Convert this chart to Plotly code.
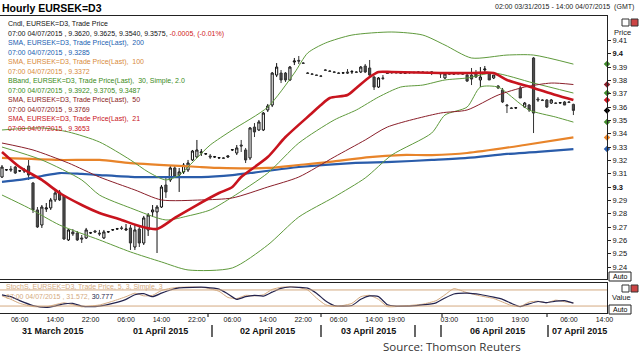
import plotly.graph_objects as go
import pandas as pd

# ---------------- data ----------------
session_starts = ["2015-03-31 02:00", "2015-04-05 18:00"]
session_ends = ["2015-04-03 21:00", "2015-04-07 07:00"]

opens = [
    9.3075, 9.3128, 9.3135, 9.3150, 9.3120, 9.3120, 9.3158, 9.3030, 9.2828, 9.2715,
    9.2835, 9.2843, 9.2903, 9.2963, 9.2933, 9.2603, 9.2663, 9.2655, 9.2618, 9.2618,
    9.2655, 9.2670, 9.2655, 9.2618, 9.2663, 9.2678, 9.2685, 9.2693, 9.2678, 9.2693,
    9.2550, 9.2685, 9.2580, 9.2678, 9.2813, 9.2813, 9.2850, 9.3015, 9.3053, 9.3143,
    9.3090, 9.3113, 9.3128, 9.3203, 9.3225, 9.3255, 9.3248, 9.3233, 9.3225, 9.3218,
    9.3218, 9.3225, 9.3278, 9.3255, 9.3315, 9.3278, 9.3218, 9.3450, 9.3428, 9.3428,
    9.3578, 9.3615, 9.3840, 9.3855, 9.3855, 9.3803, 9.3938, 9.3950, 9.3930, 9.3855,
    9.3848, 9.3840, 9.3833, 9.3878, 9.3870, 9.3863, 9.3855, 9.3855, 9.3863, 9.3863,
    9.3863, 9.3863, 9.3908, 9.3893, 9.3825, 9.3750, 9.3818, 9.3855, 9.3858, 9.3860,
    9.3857, 9.3855, 9.3860, 9.3858, 9.3860, 9.3862, 9.3860, 9.3863, 9.3858, 9.3855,
    9.3818, 9.3850, 9.3848, 9.3852, 9.3850, 9.3840, 9.3840, 9.3855, 9.3803, 9.3878,
    9.3855, 9.3818, 9.3758, 9.3728, 9.3615, 9.3593, 9.3593, 9.3743, 9.3600, 9.3615,
    9.3968, 9.3660, 9.3653, 9.3653, 9.3630, 9.3630, 9.3630, 9.3638, 9.3638, 9.3620,
]
highs = [
    9.3165, 9.3135, 9.3158, 9.3158, 9.3128, 9.3143, 9.3203, 9.3038, 9.2850, 9.2865,
    9.2880, 9.2918, 9.2978, 9.2978, 9.2940, 9.2685, 9.2685, 9.2670, 9.2640, 9.2693,
    9.2663, 9.2678, 9.2678, 9.2678, 9.2670, 9.2685, 9.2693, 9.2708, 9.2723, 9.2715,
    9.2715, 9.2708, 9.2783, 9.2805, 9.2865, 9.2865, 9.3015, 9.3075, 9.3158, 9.3158,
    9.3143, 9.3180, 9.3203, 9.3278, 9.3353, 9.3285, 9.3255, 9.3248, 9.3233, 9.3225,
    9.3225, 9.3233, 9.3285, 9.3315, 9.3353, 9.3293, 9.3450, 9.3480, 9.3503, 9.3563,
    9.3623, 9.3863, 9.3930, 9.3878, 9.3863, 9.3908, 9.3968, 9.3983, 9.3938, 9.3863,
    9.3855, 9.3842, 9.3840, 9.3885, 9.3878, 9.3870, 9.3863, 9.3863, 9.3885, 9.3878,
    9.3870, 9.3908, 9.3923, 9.3953, 9.3833, 9.3825, 9.3840, 9.3863, 9.3865, 9.3868,
    9.3863, 9.3860, 9.3865, 9.3863, 9.3866, 9.3868, 9.3866, 9.3866, 9.3862, 9.3858,
    9.3848, 9.3855, 9.3853, 9.3857, 9.3855, 9.3848, 9.3893, 9.3878, 9.3900, 9.3908,
    9.3863, 9.3840, 9.3765, 9.3743, 9.3623, 9.3600, 9.3598, 9.3758, 9.3638, 9.3623,
    9.3975, 9.3675, 9.3660, 9.3660, 9.3660, 9.3635, 9.3636, 9.3645, 9.3645, 9.3625,
]
lows = [
    9.3068, 9.3120, 9.3113, 9.3098, 9.3113, 9.3105, 9.3053, 9.2805, 9.2693, 9.2693,
    9.2813, 9.2828, 9.2888, 9.2895, 9.2603, 9.2595, 9.2633, 9.2595, 9.2580, 9.2610,
    9.2648, 9.2655, 9.2633, 9.2610, 9.2655, 9.2670, 9.2678, 9.2678, 9.2670, 9.2528,
    9.2528, 9.2550, 9.2565, 9.2633, 9.2775, 9.2505, 9.2843, 9.2918, 9.3038, 9.3068,
    9.2963, 9.3098, 9.3113, 9.3195, 9.3218, 9.3233, 9.3240, 9.3210, 9.3218, 9.3210,
    9.3210, 9.3218, 9.3270, 9.3240, 9.3263, 9.3180, 9.3203, 9.3375, 9.3420, 9.3420,
    9.3563, 9.3600, 9.3825, 9.3780, 9.3788, 9.3795, 9.3915, 9.3923, 9.3923, 9.3848,
    9.3840, 9.3833, 9.3825, 9.3870, 9.3863, 9.3855, 9.3848, 9.3848, 9.3848, 9.3848,
    9.3855, 9.3855, 9.3855, 9.3818, 9.3728, 9.3743, 9.3803, 9.3848, 9.3850, 9.3853,
    9.3850, 9.3848, 9.3850, 9.3853, 9.3855, 9.3857, 9.3852, 9.3840, 9.3852, 9.3818,
    9.3810, 9.3843, 9.3842, 9.3846, 9.3844, 9.3788, 9.3765, 9.3818, 9.3750, 9.3863,
    9.3803, 9.3810, 9.3735, 9.3630, 9.3555, 9.3585, 9.3585, 9.3668, 9.3593, 9.3563,
    9.3405, 9.3638, 9.3645, 9.3593, 9.3623, 9.3623, 9.3624, 9.3615, 9.3630, 9.3540,
]
closes = [
    9.3150, 9.3130, 9.3128, 9.3105, 9.3122, 9.3128, 9.3090, 9.2828, 9.2700, 9.2850,
    9.2843, 9.2903, 9.2955, 9.2903, 9.2610, 9.2678, 9.2648, 9.2603, 9.2610, 9.2678,
    9.2657, 9.2663, 9.2648, 9.2663, 9.2665, 9.2680, 9.2687, 9.2690, 9.2685, 9.2580,
    9.2678, 9.2580, 9.2768, 9.2790, 9.2828, 9.2850, 9.3000, 9.2963, 9.3143, 9.3075,
    9.3113, 9.3165, 9.3180, 9.3270, 9.3278, 9.3263, 9.3250, 9.3225, 9.3227, 9.3220,
    9.3216, 9.3233, 9.3280, 9.3293, 9.3308, 9.3203, 9.3443, 9.3413, 9.3488, 9.3555,
    9.3608, 9.3855, 9.3900, 9.3803, 9.3803, 9.3900, 9.3945, 9.3945, 9.3928, 9.3853,
    9.3846, 9.3838, 9.3831, 9.3876, 9.3868, 9.3861, 9.3853, 9.3857, 9.3855, 9.3866,
    9.3861, 9.3900, 9.3863, 9.3840, 9.3750, 9.3818, 9.3815, 9.3853, 9.3860, 9.3857,
    9.3855, 9.3852, 9.3858, 9.3860, 9.3862, 9.3860, 9.3858, 9.3862, 9.3857, 9.3850,
    9.3848, 9.3848, 9.3850, 9.3850, 9.3848, 9.3795, 9.3810, 9.3825, 9.3825, 9.3885,
    9.3803, 9.3840, 9.3743, 9.3638, 9.3610, 9.3590, 9.3595, 9.3668, 9.3630, 9.3578,
    9.3555, 9.3653, 9.3650, 9.3600, 9.3653, 9.3628, 9.3633, 9.3615, 9.3635, 9.3575,
]

# indicator samples (bar index, value)
sma200_idx = [0, 4, 9, 13, 18, 22, 30, 36, 45, 52, 56, 67, 79, 88, 97, 105, 114, 121, 129]
sma200_vals = [9.3038, 9.3053, 9.3083, 9.3105, 9.3098, 9.3090, 9.3075, 9.3075, 9.3075, 9.3090,
               9.3105, 9.3150, 9.3180, 9.3188, 9.3203, 9.3218, 9.3248, 9.3263, 9.3285]
sma100_idx = [0, 13, 22, 29, 45, 49, 60, 67, 74, 83, 90, 97, 105, 118, 129]
sma100_vals = [9.3218, 9.3203, 9.3203, 9.3180, 9.3150, 9.3143, 9.3143, 9.3165, 9.3188, 9.3225,
               9.3240, 9.3240, 9.3255, 9.3315, 9.3372]
sma50_idx = [0, 7, 15, 22, 30, 36, 45, 52, 60, 67, 75, 82, 87, 99, 105, 112, 118, 124, 129]
sma50_vals = [9.3330, 9.3278, 9.3180, 9.3075, 9.2978, 9.2903, 9.2903, 9.2918, 9.3000, 9.3075,
              9.3225, 9.3353, 9.3450, 9.3555, 9.3578, 9.3690, 9.3750, 9.3780, 9.3769]
sma21_idx = [0, 4, 9, 13, 18, 22, 27, 31, 35, 39, 44, 49, 52, 54, 60, 64, 70, 72, 74, 78, 80,
             83, 85, 88, 99, 106, 111, 114, 120, 125, 129]
sma21_vals = [9.3263, 9.3150, 9.3053, 9.2955, 9.2865, 9.2805, 9.2753, 9.2708, 9.2685, 9.2768,
              9.2865, 9.2955, 9.3000, 9.3075, 9.3225, 9.3375, 9.3555, 9.3615, 9.3668, 9.3690,
              9.3743, 9.3825, 9.3863, 9.3863, 9.3855, 9.3855, 9.3855, 9.3803, 9.3743, 9.3690, 9.3653]
bb_up_idx = [0, 9, 15, 22, 29, 33, 37, 40, 44, 47, 52, 60, 66, 69, 73, 79, 88, 95, 100, 106, 114, 120, 129]
bb_up_vals = [9.3428, 9.3443, 9.3413, 9.3338, 9.3203, 9.3113, 9.3053, 9.3090, 9.3218, 9.3315,
              9.3428, 9.3600, 9.3855, 9.4005, 9.4080, 9.4140, 9.4163, 9.4140, 9.4065, 9.3968,
              9.3990, 9.3990, 9.3922]
bb_mid_idx = [0, 9, 18, 22, 29, 37, 42, 47, 52, 60, 67, 75, 80, 85, 90, 95, 100, 105, 111, 120, 129]
bb_mid_vals = [9.3300, 9.3203, 9.3053, 9.2940, 9.2843, 9.2753, 9.2783, 9.2828, 9.2925, 9.3105,
               9.3330, 9.3503, 9.3578, 9.3675, 9.3750, 9.3765, 9.3803, 9.3818, 9.3855, 9.3780, 9.3705]
bb_lo_idx = [0, 6, 13, 22, 29, 36, 42, 52, 60, 67, 75, 82, 88, 97, 100, 105, 108, 112, 114, 119, 125, 129]
bb_lo_vals = [9.2940, 9.2843, 9.2715, 9.2603, 9.2513, 9.2438, 9.2378, 9.2393, 9.2565, 9.2775,
              9.2925, 9.3068, 9.3240, 9.3405, 9.3540, 9.3600, 9.3750, 9.3750, 9.3705, 9.3578,
              9.3525, 9.3487]

stoch_idx = [0, 2, 4, 7, 10, 12, 14, 16, 18, 20, 22, 25, 28, 30, 32, 34, 36, 38, 40, 43,
             46, 49, 51, 53, 55, 57, 59, 61, 63, 65, 67, 69, 71, 73, 75, 77, 79, 81, 83, 85,
             87, 89, 92, 95, 98, 100, 102, 105, 108, 111, 113, 115, 117, 119, 121, 123, 125, 127, 129]
stoch_slow = [62, 55, 40, 22, 15, 20, 28, 30, 20, 18, 20, 30, 45, 62, 66, 55, 68, 80, 88, 90,
              90, 83, 65, 45, 55, 60, 57, 72, 86, 91, 90, 87, 68, 40, 22, 20, 22, 45, 58, 55,
              25, 20, 20, 24, 32, 50, 65, 68, 63, 53, 45, 30, 18, 28, 37, 33, 38, 40, 30.777]
stoch_fast = [58, 45, 30, 18, 17, 25, 32, 25, 17, 20, 24, 38, 55, 68, 58, 60, 78, 86, 90, 91,
              88, 75, 52, 48, 60, 58, 62, 82, 90, 92, 89, 80, 50, 25, 18, 22, 30, 55, 60, 45,
              18, 18, 22, 27, 40, 62, 85, 70, 58, 48, 35, 22, 18, 35, 38, 32, 42, 36, 31.572]
stoch_levels = [80, 20]

y_ticks = [9.24, 9.25, 9.26, 9.27, 9.28, 9.29, 9.30, 9.31, 9.32, 9.33, 9.34, 9.35, 9.36,
           9.37, 9.38, 9.39, 9.40, 9.41]
tick_times = ["2015-03-31 06:00", "2015-03-31 14:00", "2015-03-31 22:00",
              "2015-04-01 06:00", "2015-04-01 14:00", "2015-04-01 22:00",
              "2015-04-02 06:00", "2015-04-02 14:00", "2015-04-02 22:00",
              "2015-04-03 06:00", "2015-04-03 14:00", "2015-04-03 19:00",
              "2015-04-06 03:00", "2015-04-06 11:00", "2015-04-06 19:00",
              "2015-04-07 06:00", "2015-04-07 14:00"]
date_labels = ["31 March 2015", "01 April 2015", "02 April 2015", "03 April 2015",
               "06 April 2015", "07 April 2015"]

# ---------------- build ----------------
bar_times = []
for s, e in zip(session_starts, session_ends):
    bar_times += list(pd.date_range(s, e, freq="h"))

def pick(idx):
    return [bar_times[k] for k in idx]

BLUE = "#2a5caa"
ORANGE = "#e8842a"
GREEN = "#5f9a3c"
MAROON = "#8a1f2a"
RED = "#c8141e"
TAN = "#d4aa80"
NAVY = "#24244e"
FONT = "Liberation Sans"

x_range = ["2015-03-31 01:33", "2015-04-07 14:35"]
rbreaks = [dict(bounds=["2015-04-03 21:30", "2015-04-05 17:30"])]

fig = go.Figure()
fig.add_trace(go.Candlestick(
    x=bar_times, open=opens, high=highs, low=lows, close=closes,
    increasing=dict(line=dict(color="#111111", width=1), fillcolor="#ffffff"),
    decreasing=dict(line=dict(color="#333333", width=1), fillcolor="#4d4d4d"),
    whiskerwidth=0, xaxis="x", yaxis="y", showlegend=False, hoverinfo="skip"))

lines = [
    (sma200_idx, sma200_vals, BLUE, 2.2),
    (sma100_idx, sma100_vals, ORANGE, 2.2),
    (bb_up_idx, bb_up_vals, GREEN, 1),
    (bb_mid_idx, bb_mid_vals, GREEN, 1),
    (bb_lo_idx, bb_lo_vals, GREEN, 1),
    (sma50_idx, sma50_vals, MAROON, 1),
    (sma21_idx, sma21_vals, RED, 2.6),
]
for idx, vals, col, w in lines:
    fig.add_trace(go.Scatter(x=pick(idx), y=vals, mode="lines", xaxis="x", yaxis="y",
                             line=dict(color=col, width=w, shape="spline", smoothing=0.7),
                             showlegend=False, hoverinfo="skip"))

# last-value markers on the price axis
last_vals = [bb_up_vals[-1], sma50_vals[-1], bb_mid_vals[-1], sma21_vals[-1], closes[-1],
             bb_lo_vals[-1], sma100_vals[-1], sma200_vals[-1]]
last_cols = ["#3f8a2a", MAROON, "#3f8a2a", RED, "#000000", "#3f8a2a", ORANGE, BLUE]
fig.add_trace(go.Scatter(x=[x_range[1]] * len(last_vals), y=last_vals, mode="markers",
                         marker=dict(color=last_cols, size=5, symbol="diamond"),
                         cliponaxis=False, xaxis="x", yaxis="y", showlegend=False,
                         hoverinfo="skip"))

# stochastic panel
fig.add_trace(go.Scatter(x=pick(stoch_idx), y=stoch_fast, mode="lines", xaxis="x2", yaxis="y2",
                         line=dict(color=TAN, width=1, shape="spline", smoothing=0.5),
                         showlegend=False, hoverinfo="skip"))
fig.add_trace(go.Scatter(x=pick(stoch_idx), y=stoch_slow, mode="lines", xaxis="x2", yaxis="y2",
                         line=dict(color=NAVY, width=1.2, shape="spline", smoothing=0.5),
                         showlegend=False, hoverinfo="skip"))

W, H = 640, 357
ML, MR, MT, MB = 0, 33, 16, 44
PW, PH = W - ML - MR, H - MT - MB


def px(x, y):
    return (x - ML) / PW, (H - MB - y) / PH


main_dom = [(H - MB - 279) / PH, 1.0]
stoch_dom = [0.0, (H - MB - 283) / PH]

tick_text = [t[-5:] for t in tick_times]
ytext = [("<b>%g</b>" % v if abs(v * 10 - round(v * 10)) < 1e-9 else "%.2f" % v) for v in y_ticks]

fig.update_layout(
    width=W, height=H, margin=dict(l=ML, r=MR, t=MT, b=MB),
    paper_bgcolor="white", plot_bgcolor="white",
    font=dict(family=FONT, size=8, color="#000"),
    xaxis=dict(domain=[0, 1], anchor="y", range=x_range, rangebreaks=rbreaks,
               showticklabels=False, showgrid=False, zeroline=False,
               showline=True, mirror=True, linecolor="#222", linewidth=1,
               rangeslider=dict(visible=False)),
    xaxis2=dict(domain=[0, 1], anchor="y2", range=x_range, rangebreaks=rbreaks,
                tickmode="array", tickvals=tick_times, ticktext=tick_text,
                tickfont=dict(size=7, family=FONT, color="#111"), ticks="",
                showgrid=False, zeroline=False, showline=True, mirror=True,
                linecolor="#222", linewidth=1),
    yaxis=dict(domain=main_dom, anchor="x", side="right", range=[9.231, 9.4283],
               tickmode="array", tickvals=y_ticks, ticktext=ytext,
               tickfont=dict(size=7.5, family=FONT, color="#111"),
               ticks="outside", ticklen=3, tickcolor="#222",
               showgrid=False, zeroline=False, showline=True, mirror=True,
               linecolor="#222", linewidth=1),
    yaxis2=dict(domain=stoch_dom, anchor="x2", side="right", range=[-6, 106],
                showticklabels=False, showgrid=False, zeroline=False,
                showline=True, mirror=True, linecolor="#222", linewidth=1),
)

shapes = []
for lv in stoch_levels:
    shapes.append(dict(type="line", xref="paper", yref="y2", x0=0, x1=1, y0=lv, y1=lv,
                       line=dict(color=TAN, width=1)))

# date separators and day tick marks (pixel layout)
sep_px = [212, 321, 415, 441, 548]
for sx in sep_px:
    x0, y0 = px(sx, 325)
    _, y1 = px(sx, 337)
    shapes.append(dict(type="line", xref="paper", yref="paper", x0=x0, x1=x0, y0=y0, y1=y1,
                       line=dict(color="#000", width=1.2)))
for sx in [208, 321, 442, 547]:
    x0, y0 = px(sx, 314)
    _, y1 = px(sx, 317)
    shapes.append(dict(type="line", xref="paper", yref="paper", x0=x0, x1=x0, y0=y0, y1=y1,
                       line=dict(color="#000", width=1)))
# small panel icons
for yy in [19, 285]:
    for xx in [622, 631]:
        a0, b0 = px(xx, yy)
        a1, b1 = px(xx + 7, yy + 7)
        shapes.append(dict(type="rect", xref="paper", yref="paper", x0=a0, x1=a1, y0=b1, y1=b0,
                           line=dict(color="#333", width=1),
                           fillcolor="#ffffff" if xx == 622 else "#cc4444"))
# Auto boxes
for yy in [272, 305]:
    a0, b0 = px(609, yy)
    a1, b1 = px(631, yy + 9)
    shapes.append(dict(type="rect", xref="paper", yref="paper", x0=a0, x1=a1, y0=b1, y1=b0,
                       line=dict(color="#222", width=1), fillcolor="rgba(0,0,0,0)"))
fig.update_layout(shapes=shapes)

anns = []


def ann(text, x, y, size=7, color="#000", xanchor="left", family=FONT):
    ax, ay = px(x, y)
    anns.append(dict(text=text, x=ax, y=ay, xref="paper", yref="paper", xanchor=xanchor,
                     yanchor="middle", showarrow=False,
                     font=dict(size=size, color=color, family=family)))


ann("<b>Hourly EURSEK=D3</b>", 0, 8, size=10.5)
ann("02:00 03/31/2015 - 14:00 04/07/2015  (GMT)", 636, 7, size=7, color="#222", xanchor="right")
ann("Price", 612, 33, size=7.5, color="#222")
ann("Value", 610, 297, size=7.5, color="#222")
ann("Auto", 620, 276.5, size=7, color="#000", xanchor="center")
ann("Auto", 620, 309.5, size=7, color="#000", xanchor="center")

legend = [
    ("Cndl, EURSEK=D3, Trade Price", "#111"),
    ("07:00 04/07/2015 , %.4f, %.4f, %.4f, %.4f, "
     "<span style=\"color:#d01818\">-0.0005, (-0.01%%)</span>"
     % (opens[-1], highs[-1], lows[-1], closes[-1]), "#111"),
    ("SMA, EURSEK=D3, Trade Price(Last),  200", "#2060b0"),
    ("07:00 04/07/2015 , %.4f" % sma200_vals[-1], "#2060b0"),
    ("SMA, EURSEK=D3, Trade Price(Last),  100", "#d88a3a"),
    ("07:00 04/07/2015 , %.4f" % sma100_vals[-1], "#d88a3a"),
    ("BBand, EURSEK=D3, Trade Price(Last),  30, Simple, 2.0", "#3a8a20"),
    ("07:00 04/07/2015 , %.4f, %.4f, %.4f" % (bb_up_vals[-1], bb_mid_vals[-1], bb_lo_vals[-1]),
     "#3a8a20"),
    ("SMA, EURSEK=D3, Trade Price(Last),  50", "#8b1a1a"),
    ("07:00 04/07/2015 , %.4f" % sma50_vals[-1], "#8b1a1a"),
    ("SMA, EURSEK=D3, Trade Price(Last),  21", "#c81020"),
    ("07:00 04/07/2015 , %.4f" % sma21_vals[-1], "#c81020"),
]
for k, (t, c) in enumerate(legend):
    ann(t, 6, 24 + 9.5 * k, size=7, color=c)

ann("StochS, EURSEK=D3, Trade Price, 5, 3, Simple, 3", 4, 287, size=7, color=TAN)
ann("07:00 04/07/2015 , %.3f, <span style=\"color:%s\">%.3f</span>"
    % (stoch_fast[-1], NAVY, stoch_slow[-1]), 4, 296.5, size=7, color=TAN)

date_px = [53, 160, 267, 368, 497, 579]
for lbl, dx in zip(date_labels, date_px):
    ann("<b>" + lbl + "</b>", dx, 331, size=9, color="#111", xanchor="center")

ann("Source: Thomson Reuters", 452, 346, size=11.5, color="#333", xanchor="center",
    family="Open Sans")

fig.update_layout(annotations=anns)
fig.write_html("out.html", config={"displayModeBar": False},
               post_script="document.body.style.margin='0';document.body.style.overflow='hidden';")
